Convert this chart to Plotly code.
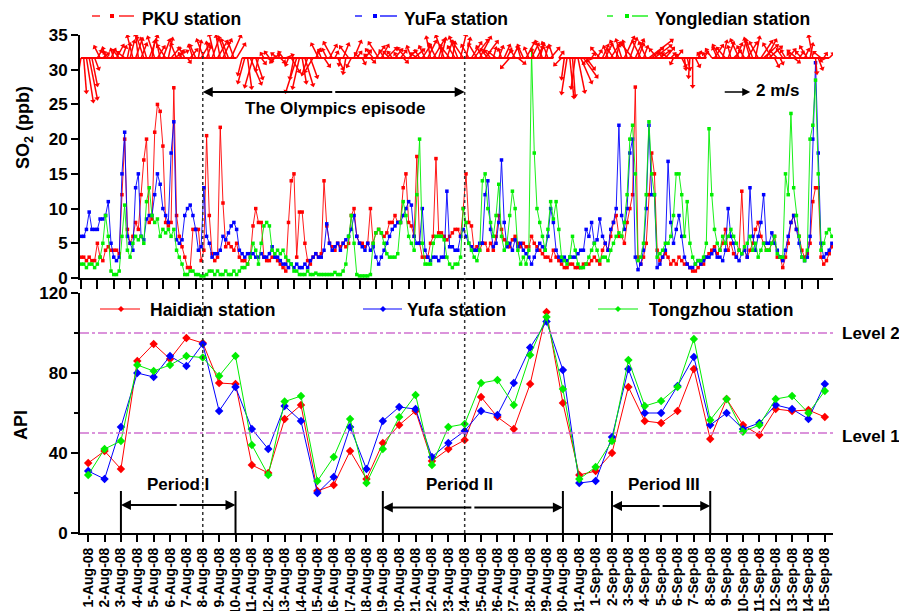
import numpy as np
import pandas as pd
import plotly.graph_objects as go

FONT = "Liberation Sans, Arial, Helvetica, sans-serif"
W, H = 899, 611
ML, MR, MT, MB = 80, 66, 35, 78
PW, PH = W - ML - MR, H - MT - MB


def fx(p):
    """pixel column -> paper x"""
    return (p - ML) / PW


def fy(p):
    """pixel row -> paper y"""
    return (H - MB - p) / PH


# ---------------- daily API (1 Aug - 15 Sep 2008) ----------------
dates = pd.date_range("2008-08-01", "2008-09-15", freq="D")
date_labels = [f"{d.day}-{d.strftime('%b')}-08" for d in dates]

api_haidian = [35, 41, 32, 86, 94.5, 87, 97.5, 95, 75, 74.5, 34, 30, 57, 64, 21, 24,
               41, 27, 45, 54, 61, 36, 42, 46.5, 68, 58, 52, 74.5, 110.5, 65, 29,
               31, 40, 73, 56, 55, 61, 82, 47, 67, 54, 49, 62, 61, 61.5, 58]
api_yufa = [31, 27, 53, 80, 78, 88.5, 83.5, 94.5, 61, 73, 52, 42, 63.5, 56, 20, 28,
            53, 32, 56, 63, 62, 38, 45, 51, 61, 59, 75, 92.7, 105.7, 81.5, 25,
            26, 48, 82, 60, 60, 73.5, 88, 54, 60, 52, 55, 64, 62, 57, 74.5]
api_tongzhou = [29, 42, 46, 84, 81, 84, 88.5, 87.7, 78.5, 88.5, 44, 29, 65.7, 68.5, 26, 38,
                57, 25, 42, 58, 69, 34, 53, 54.5, 75, 76.5, 64, 89, 108, 72, 27,
                33, 46, 86.5, 63.5, 66, 73, 97, 56.5, 67, 50.6, 54, 67, 68.5, 60, 71]

# ---------------- 4-hourly SO2 (ppb), six values per day ----------------
so2_pku = [
    3, 3, 2.5, 3, 2.5, 2.5,   5, 3, 2.5, 4, 4.5, 4,   4, 4, 3.5, 12, 20, 7,
    5, 6, 8, 7, 12, 17,   20, 8, 8.5, 21, 25, 24,   19, 8, 7.5, 8, 27.4, 9,
    6, 4.5, 3, 1.5, 1.5, 7,   7, 7, 2.5, 4, 20.5, 9,   3.5, 2.5, 3, 21.7, 10.8, 4.5,
    5, 4.5, 4, 5, 3, 2.5,   2.5, 2, 3, 7.5, 10, 8,   8, 3, 2.5, 2.5, 3, 3,
    2.5, 2, 1.5, 1, 8, 14,   15, 3, 9.5, 9.5, 5, 2.5,   2, 3, 3.5, 3, 3.5, 14,
    7.5, 5, 4.5, 4, 5, 4.5,   5, 4.5, 5, 9, 10, 6,   5, 5, 4.5, 5, 10, 5,
    6.5, 7, 6.5, 6, 6.5, 8,   8, 9, 8, 8, 13, 15,   8, 7.5, 6, 17.5, 5, 3,
    3, 3, 5, 6, 17.2, 6.5,   6.5, 6, 5.5, 6, 6.5, 7,   7, 6, 10, 15, 8, 7.5,
    4, 4.5, 4, 5, 5, 4,   5, 4, 6, 9, 7, 5.5,   5, 4.5, 5.5, 6, 5, 4.5,
    5, 4.5, 4.5, 6, 5, 4.5,   4, 3.5, 3, 3, 2.5, 4,   3, 2.5, 2, 1.5, 1.5, 2,
    2, 1.5, 1.5, 1.5, 2, 2,   2, 2.5, 3, 2.5, 2, 4,   5, 4, 6, 8, 9, 6,
    6, 5, 8, 10, 12, 27.5,   3, 2, 3, 5, 12, 18,   15, 4, 2.5, 3, 3.5, 3,
    2, 2.5, 2, 3, 2.5, 2,   2, 1.5, 1, 1, 1.5, 2,   2, 3, 3.5, 4, 4.5, 3.5,
    4, 5, 7, 4, 5, 3.5,   3, 4, 12.5, 4, 3, 4,   5, 7, 8, 6, 5, 4,
    4, 5, 6, 3, 3, 1.5,   3, 5, 8, 9, 7, 6,   4, 3, 3.5, 5, 11, 13,
    13, 3, 2, 2.5, 3.5, 4.5,
]
so2_yufa = [
    6, 6, 7, 9.5, 7, 7,   7, 8.5, 8.5, 9, 11, 5,   3, 2.5, 3, 15, 21, 6,
    5, 4, 13, 15, 6, 5.5,   8.5, 9, 9, 12, 15, 13.5,   10, 9, 8, 18, 22.5, 5.5,
    5, 5.5, 9, 10, 10.5, 9,   7, 4, 4.5, 13, 6, 5,   3, 3.5, 3.5, 4, 6, 5.5,
    6.5, 7.5, 8, 7, 4, 3.5,   3, 3.5, 3.5, 3.5, 3, 3,   3.5, 3, 3, 3.5, 4.5, 3,
    3, 2.5, 2, 2, 1.5, 2,   1.5, 2, 1.5, 1.5, 2, 1.5,   2.5, 3, 3.5, 3, 3, 4,
    7.8, 5, 4, 4.5, 5, 4,   5, 5.5, 6, 7, 9, 6,   5, 4.5, 4, 5, 4, 4.5,
    3, 2, 3, 4, 5, 6,   7, 7.5, 8, 8, 9, 10,   11, 10.5, 6, 5, 5, 10,
    4, 3, 2.5, 3, 3, 2.5,   3, 3, 12.5, 4.5, 4.5, 4,   4, 6, 7, 6, 5, 4.5,
    4, 4, 5, 5, 12, 14,   7, 4.5, 5, 8, 17, 8,   4.5, 5, 4, 5.5, 4.5, 5,
    4, 3.5, 3, 2, 3, 4,   5, 4.5, 4, 6, 10, 8,   4, 3, 2.5, 3, 2.5, 3,
    3, 3, 3.5, 4, 4, 7,   6, 8, 5, 5.5, 8.5, 6,   5, 4, 7, 8, 10, 22,
    9, 7, 10, 18, 20, 3,   1.2, 2, 4, 10, 22, 12,   12, 1.5, 2, 3, 4, 16.8,
    8, 5, 7, 9, 6, 3,   2, 1.5, 1.5, 2, 2.5, 2,   2.5, 3, 3, 3.5, 4, 3,
    3, 2.5, 4, 10, 6, 5,   3, 2.5, 3.5, 4, 3, 13,   6, 4, 6, 8, 12, 5,
    5, 6.5, 5, 4, 3, 2.5,   4, 6, 8, 9, 7, 5,   3, 2.5, 3, 6, 20, 31,
    18, 5, 3, 3.5, 4, 5,
]
so2_yongledian = [
    2, 2, 1.5, 2, 2, 1.5,   2, 3, 5, 9, 6, 1,   0.5, 0.5, 1, 6, 10.5, 4,
    3, 5, 6, 5.5, 6, 5,   11, 13, 9, 8, 8.5, 6,   7, 6.5, 7, 6, 7, 4,
    3, 2, 0.5, 0.5, 1, 1,   0.5, 0.5, 0.3, 0.3, 0.5, 1,   1, 0.5, 1, 0.5, 0.5, 1,
    0.5, 0.5, 1, 0.5, 1, 1.5,   1.5, 2, 3, 5, 4, 2,   5, 7.5, 8, 7.5, 4, 3.5,
    4, 3.5, 4, 3, 2.5, 2,   1, 1, 0.5, 0.5, 0.5, 1,   0.5, 0.5, 0.7, 0.5, 0.5, 0.5,
    0.5, 0.5, 0.5, 0.8, 0.5, 0.5,   1, 2, 6, 9, 5, 0.5,   0.3, 0.3, 0.3, 0.3, 0.5, 5,
    6.5, 7, 6.5, 5, 3.5, 3,   3, 3, 3.5, 8, 11, 9,   6, 5, 4, 12, 20, 5,
    2, 2, 2, 5, 6, 6,   6, 5.5, 3, 2, 1.5, 2,   2, 3, 10, 8, 5, 4,
    3, 2.5, 4, 14, 15, 10,   8, 6, 9, 13.5, 6, 4,   5, 9, 12.5, 10, 4, 2,
    3, 2, 4, 32.8, 18, 10,   8, 6, 4, 7, 11, 8.5,   11, 7, 3, 2.5, 2, 3,
    6, 4, 2, 1.5, 1.5, 2,   3, 4, 5, 4, 2.5, 3,   3, 2.5, 4, 5, 6, 6.5,
    6, 8, 12, 20, 22, 15,   2.5, 3, 5, 12, 22.5, 15,   12, 3, 3.5, 4, 5, 5,
    6, 9, 15, 15, 12, 6,   11, 5, 3, 2, 2.5, 2.5,   3, 5, 21.5, 12, 7, 5,
    4, 6, 5, 6, 7, 6,   5, 4, 3.5, 4.5, 5, 6,   4, 5, 3, 4, 5, 4,
    4, 5, 6, 3.5, 3, 3,   15, 12, 23.7, 13, 9, 6,   3, 2.5, 4, 20, 22, 28.5,
    15, 4, 5, 6.5, 7, 6,
]

# ---------------- 4-hourly wind components at PKU (m/s) ----------------
wind_u = [
    -0.3, 0.2, 0.5, 0.6, 0.4, 0.3,   0.3, -0.4, 0.4, -0.2, -0.3, 0.3,   -0.2, 0.5, -0.4, 0.3, -0.5, 0.2,
    0.3, -0.4, 0.5, -0.2, 0.4, -0.5,   -0.4, 0.6, 0.2, -0.5, 0.5, -0.3,   0.5, -0.6, 0.3, 0.6, 1.0, -0.4,
    0.3, -0.2, -0.4, 0.2, 0.5, -0.3,   -0.4, 0.2, 0.6, -0.5, 0.3, -0.2,   0.5, -0.4, 0.7, -0.3, 0.6, -0.5,
    -0.5, 0.7, -0.4, 0.6, None, -0.3,   -0.5, 0.3, 0.8, -0.6, 0.5, -0.2,   0.3, -0.2, 0.4, -0.3, 0.5, -0.3,
    -0.4, 0.3, -0.3, 0.5, -0.2, 0.6,   -0.3, -0.8, -0.5, 0.3, 0.6, -0.4,   0.5, -0.6, 0.3, -0.5, -0.2, 0.4,
    -0.3, 0.5, -0.6, 0.2, 0.4, -0.1,   0.4, -0.2, -0.6, -0.3, 0.5, 0.3,   -0.3, 0.2, 0.4, -0.2, 0.3, -0.5,
    0.6, -0.7, 0.5, -0.3, 0.7, -0.4,   -0.3, 0.5, -0.2, 0.4, 0.3, -0.6,   0.5, -0.3, 0.7, -0.4, -0.3, 0.6,
    -0.4, 0.6, -0.3, 0.8, -0.5, 0.2,   0.3, -0.6, 0.4, -0.7, 0.2, -0.5,   -0.6, 0.4, -0.8, 0.3, -0.5, 0.7,
    1.0, -0.6, 0.8, -0.4, 0.9, -0.5,   -0.4, 0.2, -0.5, 0.3, -0.2, 0.4,   0.3, -0.6, 0.4, -0.3, 0.5, -0.2,
    -0.4, 0.6, -0.3, 0.5, -0.2, 0.4,   0.3, -0.5, 0.2, -0.4, 0.6, -0.3,   None, 0.3, -0.5, -0.2, -0.4, 0.3,
    0.2, -0.3, 0.5, 0.8, 1.0, 0.6,   -0.4, 0.2, -0.5, 0.3, -0.6, 0.4,   0.5, -0.3, 0.7, -0.4, 0.2, -0.6,
    -0.4, 0.7, -0.3, 0.5, -0.8, 0.6,   0.4, -0.6, 0.3, -0.5, 1.7, 0.8,   1.2, -0.5, 0.7, -0.3, 0.6, -0.4,
    0.3, -0.2, 0.4, -0.2, 0.3, 0.1,   0.2, -0.1, 0.0, 0.3, 0.2, -0.2,   0.3, -0.2, None, -0.4, 0.6, -0.3,
    -0.5, 0.3, -0.6, 0.4, -0.2, 0.5,   0.4, -0.6, 0.3, -0.5, 0.7, -0.4,   -0.5, 0.3, -0.6, 0.8, 1.0, 0.7,
    0.9, -0.6, 0.3, -0.5, 0.2, -0.4,   -0.3, 0.5, -0.2, 0.4, -0.6, 0.3,   -0.4, 0.3, -0.5, 0.2, -0.3, 0.1,
    0.3, -0.5, 0.2, -0.4, 0.3, None,
]
wind_v = [
    -1.8, -2.5, -3.2, -3.0, -2.0, -0.8,   0.5, 0.8, 0.3, 0.7, 0.4, 0.6,   0.6, 0.9, 0.5, 0.8, 0.4, 1.0,
    1.2, 1.6, 1.4, 1.7, 1.0, 1.5,   1.4, 1.6, 1.2, 1.5, 0.8, 1.3,   1.3, 0.9, 1.4, 0.7, 0.5, 1.0,
    0.5, 0.3, 0.7, -0.3, 0.6, 0.9,   0.9, 1.2, 1.0, 1.3, 0.8, 1.1,   1.4, 1.7, 1.2, 1.6, 1.3, 1.5,
    1.3, 1.6, 1.1, 1.0, None, -1.2,   -1.8, -2.2, -1.9, -2.1, -1.5, -0.9,   -0.4, 0.3, -0.2, 0.4, 0.2, -0.3,
    0.3, -0.3, 0.4, 0.2, -0.5, -1.0,   -1.5, -2.5, -2.2, -1.8, -2.0, -1.2,   -1.4, -1.0, 0.6, 1.0, 0.5, -0.6,
    0.6, 0.9, 1.1, 0.4, -0.8, -0.5,   1.0, -1.1, 0.8, -0.6, 1.2, 0.4,   0.3, -0.4, 0.5, 0.2, -0.3, 0.6,
    0.8, 1.1, 0.9, 0.5, 0.7, 0.4,   0.4, 0.6, 0.3, 0.5, -0.3, 0.7,   0.5, 0.8, 0.6, 0.3, 0.5, 0.9,
    0.8, 1.2, 1.5, 1.3, 1.0, 0.7,   1.4, 1.6, 1.2, 0.9, 1.1, 0.8,   1.5, 1.7, 1.2, 1.4, 0.9, 1.1,
    1.3, 1.0, 1.5, 0.8, 1.2, 0.6,   0.5, 0.7, 0.4, 0.8, 0.6, 0.9,   0.6, -0.7, 0.8, 0.5, -0.4, 0.7,
    0.9, 1.1, 0.7, 1.0, 0.6, 0.8,   1.0, 1.2, 0.8, 1.1, 0.7, 0.9,   None, 0.4, -0.5, -1.5, -2.6, -2.9,
    -2.8, -2.2, -2.5, -1.8, -1.4, -0.8,   -0.4, 0.3, -0.2, 0.5, 0.7, 0.9,   1.0, 0.8, 1.1, 0.6, 0.9, 1.2,
    1.3, 1.5, 1.2, 1.4, 1.0, 1.3,   1.0, 1.2, 0.8, 1.1, 1.3, 0.7,   0.9, 0.6, 0.5, 0.4, 0.7, 0.3,
    0.3, -0.4, 0.5, 0.2, -0.6, -0.8,   -0.8, -1.4, -2.1, -0.6, 0.4, 0.3,   0.4, 0.3, None, 0.6, 0.9, 0.7,
    0.9, 1.2, 0.7, 1.1, 0.8, 0.5,   1.0, 1.3, 1.2, 0.8, 1.1, 1.4,   1.3, 1.5, 1.1, 1.2, 0.9, 1.3,
    0.8, 1.0, -0.6, 0.5, -0.4, 0.6,   0.5, 0.6, 0.3, -0.3, 0.5, 0.4,   0.4, 0.6, 0.8, 1.0, 1.6, -1.1,
    -0.8, 0.4, 0.3, -0.2, 0.3, None,
]

SLOTS_PER_DAY = 6
t_days = np.arange(len(so2_pku)) / SLOTS_PER_DAY      # days since 1 Aug 00:00
day_index = list(range(len(dates)))

# ---------------- geometry of the two panels ----------------
TOP_X = [-0.06, 45.9]
TOP_Y = [0, 35]
TOP_BOTTOM_PX, TOP_TOP_PX = 278, MT
BOT_TOP_PX = 293
px_per_day = PW / (TOP_X[1] - TOP_X[0])
px_per_ppb = (TOP_BOTTOM_PX - TOP_TOP_PX) / (TOP_Y[1] - TOP_Y[0])

# wind sticks: 13.5 px per m/s in both directions
STICK_PX = 13.5
KU = STICK_PX / px_per_day
KV = STICK_PX / px_per_ppb
WIND_BASE = 31.7

RED, BLUE, GREEN = "#FF0000", "#0000FF", "#00EE00"
LEVEL_COLOR = "#D070D0"

fig = go.Figure()

# ---- SO2 panel ----
for vals, col in [(so2_pku, RED), (so2_yufa, BLUE), (so2_yongledian, GREEN)]:
    fig.add_trace(go.Scatter(
        x=t_days, y=vals, mode="lines+markers", xaxis="x", yaxis="y",
        line=dict(color=col, width=0.9),
        marker=dict(symbol="square", size=3.5, color=col),
        showlegend=False, hoverinfo="skip"))

# wind vectors along a baseline, each stick ending in a small head
wx, wy, hx, hy, hang = [], [], [], [], []
for t, u, v in zip(t_days, wind_u, wind_v):
    if u is None or v is None:
        continue
    xe, ye = t + u * KU, WIND_BASE + v * KV
    wx += [t, xe, None]
    wy += [WIND_BASE, ye, None]
    hx.append(xe)
    hy.append(ye)
    hang.append(float(np.degrees(np.arctan2(u, v))))
base_y = [WIND_BASE if u is not None else None for u in wind_u]
fig.add_trace(go.Scatter(x=t_days, y=base_y, mode="lines", xaxis="x", yaxis="y",
                         line=dict(color=RED, width=2), connectgaps=False,
                         showlegend=False, hoverinfo="skip"))
fig.add_trace(go.Scatter(x=wx, y=wy, mode="lines", xaxis="x", yaxis="y",
                         line=dict(color=RED, width=1.5),
                         showlegend=False, hoverinfo="skip"))
fig.add_trace(go.Scatter(x=hx, y=hy, mode="markers", xaxis="x", yaxis="y",
                         marker=dict(symbol="triangle-up", size=5, angle=hang, color=RED,
                                     line=dict(width=0)),
                         cliponaxis=True, showlegend=False, hoverinfo="skip"))

# ---- API panel ----
for vals, col in [(api_haidian, RED), (api_yufa, BLUE), (api_tongzhou, GREEN)]:
    fig.add_trace(go.Scatter(
        x=day_index, y=vals, mode="lines+markers", xaxis="x2", yaxis="y2",
        line=dict(color=col, width=1),
        marker=dict(symbol="diamond", size=6.5, color=col),
        showlegend=False, hoverinfo="skip"))

bold = dict(family=FONT, color="black", weight="bold")
axis_common = dict(showline=True, linecolor="black", linewidth=2, showgrid=False,
                   zeroline=False, automargin=False, ticks="outside", tickcolor="black")

fig.update_layout(
    width=W, height=H, template="none",
    margin=dict(l=ML, r=MR, t=MT, b=MB),
    paper_bgcolor="white", plot_bgcolor="white",
    font=dict(family=FONT, color="black"),
    xaxis=dict(domain=[0, 1], anchor="y", range=TOP_X, tickmode="array",
               tickvals=list(range(46)), showticklabels=False, ticklen=9, tickwidth=1.5,
               **axis_common),
    yaxis=dict(domain=[fy(TOP_BOTTOM_PX), 1], anchor="x", range=TOP_Y, tickmode="array",
               tickvals=list(range(0, 36, 5)), ticklen=7, tickwidth=2,
               tickfont=dict(size=17, **bold), **axis_common),
    xaxis2=dict(domain=[0, 1], anchor="y2", range=[-0.5, 45.5], tickmode="array",
                tickvals=day_index, ticktext=date_labels, tickangle=-90, ticklen=7,
                tickwidth=2, tickfont=dict(size=14, **bold), **axis_common),
    yaxis2=dict(domain=[0, fy(BOT_TOP_PX)], anchor="x2", range=[0, 120], tickmode="array",
                tickvals=[0, 40, 80, 120], ticklen=7, tickwidth=2,
                minor=dict(tickvals=[20, 60, 100], ticks="outside", ticklen=4,
                           tickwidth=2, tickcolor="black"),
                tickfont=dict(size=17, **bold), **axis_common),
)

shapes = []
annotations = []

# Olympic period boundaries (8 Aug and 24 Aug) across both panels
for d in (7, 23):
    shapes.append(dict(type="line", xref="x2", yref="paper", x0=d, x1=d,
                       y0=0, y1=fy(52), line=dict(color="#333333", width=1.5, dash="dot")))

# API grade levels
for lev in (100, 50):
    shapes.append(dict(type="line", xref="x2", yref="y2", x0=-0.5, x1=45.5,
                       y0=lev, y1=lev, line=dict(color=LEVEL_COLOR, width=1.3, dash="dashdot")))
annotations.append(dict(xref="paper", yref="y2", x=fx(840), y=100, text="Level 2",
                        showarrow=False, xanchor="left", yanchor="middle",
                        font=dict(size=17, **bold)))
annotations.append(dict(xref="paper", yref="y2", x=fx(840), y=48.5, text="Level 1",
                        showarrow=False, xanchor="left", yanchor="middle",
                        font=dict(size=17, **bold)))


def double_arrow(x0, x1, y, xref, yref):
    mid = (x0 + x1) / 2
    for end in (x0, x1):
        annotations.append(dict(xref=xref, yref=yref, x=end, y=y, ax=mid, ay=y,
                                axref=xref, ayref=yref, text="", showarrow=True,
                                arrowhead=2, arrowsize=1, arrowwidth=2,
                                arrowcolor="black", standoff=0))


# Periods I, II, III
periods = [("Period I", 2, 9, 14, 5.5), ("Period II", 18, 29, 12.8, 22.7),
           ("Period III", 32, 38, 13.5, 35.2)]
for name, a, b, ya, xt in periods:
    for d in (a, b):
        shapes.append(dict(type="line", xref="x2", yref="y2", x0=d, x1=d, y0=0, y1=21,
                           line=dict(color="black", width=2)))
    double_arrow(a, b, ya, "x2", "y2")
    annotations.append(dict(xref="x2", yref="y2", x=xt, y=24.5, text=name, showarrow=False,
                            xanchor="center", yanchor="middle", font=dict(size=17, **bold)))

# Olympics episode arrow
double_arrow(7, 23, 26.8, "x2", "y")
annotations.append(dict(xref="paper", yref="paper", x=fx(335), y=fy(108),
                        text="The Olympics episode", showarrow=False,
                        xanchor="center", yanchor="middle", font=dict(size=17, **bold)))

# wind scale arrow: 2 m/s
ref_t0 = 39.2
annotations.append(dict(xref="x", yref="y", x=ref_t0 + 2 * KU, y=26.8, ax=ref_t0, ay=26.8,
                        axref="x", ayref="y", text="", showarrow=True, arrowhead=2,
                        arrowsize=1, arrowwidth=1.6, arrowcolor="black", standoff=0))
annotations.append(dict(xref="paper", yref="paper", x=fx(754), y=fy(91), text="2 m/s",
                        showarrow=False, xanchor="left", yanchor="middle",
                        font=dict(size=17, **bold)))

# axis titles
annotations.append(dict(xref="paper", yref="paper", x=fx(24), y=fy(128),
                        text="SO<sub>2</sub> (ppb)", textangle=-90, showarrow=False,
                        xanchor="center", yanchor="middle", font=dict(size=18, **bold)))
annotations.append(dict(xref="paper", yref="paper", x=fx(21), y=fy(425), text="API",
                        textangle=-90, showarrow=False, xanchor="center", yanchor="middle",
                        font=dict(size=18, **bold)))

# legends of the SO2 panel: short dash, marker, long dash, label
top_legend = [("PKU station", RED, 92, 100, 112, 119, 134, 140),
              ("YuFa station", BLUE, 355, 362, 375, 380, 397, 402),
              ("Yongledian station", GREEN, 607, 613, 627, 632, 648, 653)]
LY = 16
for name, col, a0, a1, m, b0, b1, tx in top_legend:
    for s0, s1 in ((a0, a1), (b0, b1)):
        shapes.append(dict(type="line", xref="paper", yref="paper", x0=fx(s0), x1=fx(s1),
                           y0=fy(LY), y1=fy(LY), line=dict(color=col, width=1.3)))
    shapes.append(dict(type="rect", xref="paper", yref="paper", x0=fx(m - 2), x1=fx(m + 2),
                       y0=fy(LY + 2), y1=fy(LY - 2), line=dict(width=0), fillcolor=col))
    annotations.append(dict(xref="paper", yref="paper", x=fx(tx), y=fy(18.5), text=name,
                            showarrow=False, xanchor="left", yanchor="middle",
                            font=dict(size=17.5, **bold)))

# legends of the API panel
bot_legend = [("Haidian station", RED, 100, 140, 121, 148),
              ("Yufa station", BLUE, 363, 402, 383, 405),
              ("Tongzhou station", GREEN, 598, 638, 618, 647)]
BY = 309
for name, col, s0, s1, m, tx in bot_legend:
    shapes.append(dict(type="line", xref="paper", yref="paper", x0=fx(s0), x1=fx(s1),
                       y0=fy(BY), y1=fy(BY), line=dict(color=col, width=1.2)))
    shapes.append(dict(type="path", xref="paper", yref="paper",
                       path=f"M {fx(m - 3)},{fy(BY)} L {fx(m)},{fy(BY - 3)} "
                            f"L {fx(m + 3)},{fy(BY)} L {fx(m)},{fy(BY + 3)} Z",
                       line=dict(width=0), fillcolor=col))
    annotations.append(dict(xref="paper", yref="paper", x=fx(tx), y=fy(310), text=name,
                            showarrow=False, xanchor="left", yanchor="middle",
                            font=dict(size=17.5, **bold)))

fig.update_layout(shapes=shapes, annotations=annotations)
fig.write_html("out.html")
